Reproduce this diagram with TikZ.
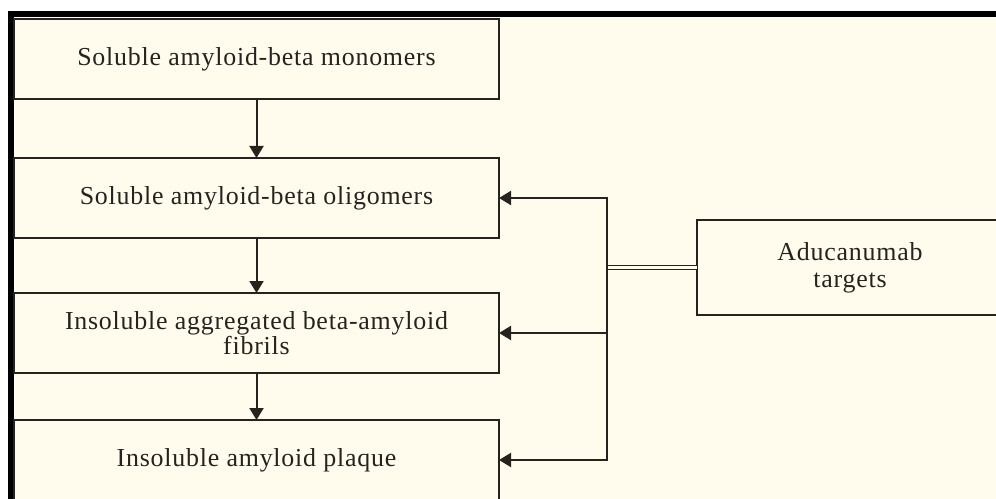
\documentclass[tikz,border=0pt]{standalone}
\usepackage{fontspec}
\setmainfont{Liberation Serif}[LetterSpace=3]
\usetikzlibrary{arrows.meta, positioning}
\definecolor{paper}{HTML}{FFFCEE}
\definecolor{ink}{HTML}{26231F}

\begin{document}
\begin{tikzpicture}[
    x=1bp, y=-1bp,
    box/.style={draw=ink, line width=2bp, fill=paper, outer sep=0pt,
                minimum width=485bp, minimum height=80bp, align=center,
                text=ink, font=\fontsize{26}{21}\selectfont},
    arr/.style={-{Triangle[length=12bp, width=14bp]}, line width=2bp, draw=ink},
    node distance=59bp
]
% page and frame
\useasboundingbox (0,0) rectangle (996,499);
\clip (0,0) rectangle (996,499);
\fill[white] (0,0) rectangle (996,499);
\fill[paper] (8,11) rectangle (996,499);
\fill[black] (8,11) rectangle (996,17);
\fill[black] (8,11) rectangle (14,499);

\node[box] (mono) at (256.5,59) {Soluble amyloid-beta monomers};
\node[box, below=of mono] (olig) {Soluble amyloid-beta oligomers};
\node[box, below=55bp of olig] (fibr) {Insoluble aggregated beta-amyloid\\fibrils};
\node[box, below=47bp of fibr] (plaq) {Insoluble amyloid plaque};
\node[box, minimum width=306bp, minimum height=95bp,
      font=\fontsize{26}{27}\selectfont] (aduc) at (850,267.5) {Aducanumab\\targets};
\coordinate[left=90bp of aduc.west] (split);

\foreach \a/\b in {mono/olig, olig/fibr, fibr/plaq}
    \draw[arr] (\a) -- (\b);

\draw[ink, line width=1.3bp, double=paper, double distance=2.5bp] (aduc.west) -- (split);
\draw[arr] (split) |- (olig.east);
\draw[arr] (split) |- (fibr.east);
\draw[arr] (split) |- (plaq.east);
\end{tikzpicture}
\end{document}
